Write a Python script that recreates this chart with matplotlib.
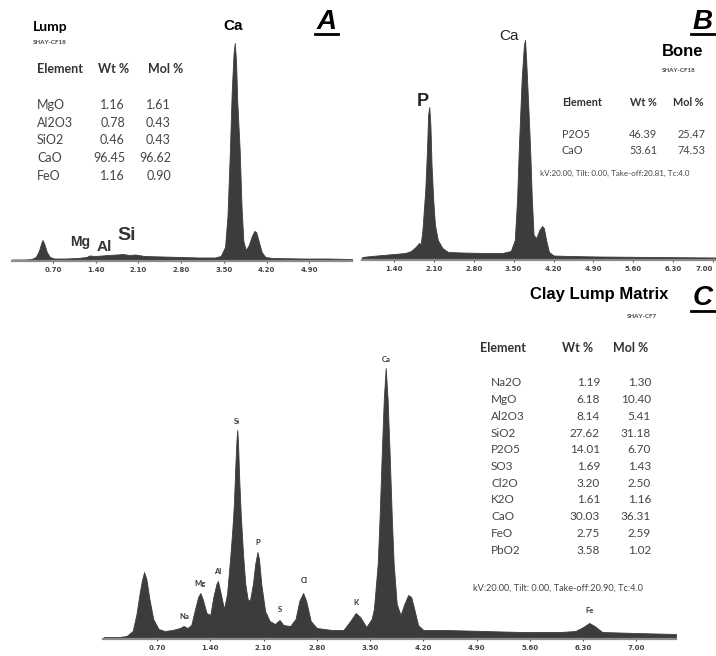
import matplotlib.pyplot as plt
from matplotlib.lines import Line2D

# figure size in pixels
W, H = 716, 656

# ---- spectrum A (Lump) : energy keV, counts
energy_a = [0.03, 0.25, 0.35, 0.42, 0.47, 0.51, 0.53, 0.56, 0.60, 0.65, 0.72, 0.90,
            1.10, 1.25, 1.30, 1.40, 1.50, 1.60, 1.75, 1.85, 1.95, 2.05, 2.20, 2.50,
            2.80, 3.10, 3.35, 3.45, 3.52, 3.56, 3.60, 3.63, 3.66, 3.68, 3.70, 3.72,
            3.76, 3.79, 3.82, 3.86, 3.91, 3.96, 4.00, 4.03, 4.07, 4.12, 4.18, 4.30,
            4.80, 5.20, 5.60]
counts_a = [1.5, 1.5, 2, 4, 10, 18, 21, 17, 9, 4, 2.5, 2.5,
            3, 4, 5.5, 5, 5.5, 6, 6.5, 7, 6, 6.5, 5, 4.5,
            4, 3.5, 3.5, 5, 14, 45, 111, 170, 208, 218, 200, 160,
            111, 55, 20, 11, 16, 25, 30, 29, 20, 9, 4, 3,
            2.5, 2.5, 2]

# ---- spectrum B (Bone)
energy_b = [0.84, 1.00, 1.20, 1.40, 1.60, 1.70, 1.78, 1.84, 1.87, 1.90, 1.95, 1.98,
            2.00, 2.02, 2.04, 2.06, 2.09, 2.12, 2.17, 2.25, 2.35, 2.60, 3.00, 3.30,
            3.45, 3.52, 3.56, 3.59, 3.64, 3.68, 3.70, 3.72, 3.76, 3.79, 3.82, 3.85,
            3.90, 3.95, 4.00, 4.03, 4.07, 4.12, 4.20, 4.50, 5.00, 6.00, 7.05]
counts_b = [3, 4, 5, 6, 7, 9, 13, 17, 16, 30, 70, 110,
            145, 153, 135, 95, 60, 35, 20, 12, 8, 7.5, 7, 7,
            9, 20, 60, 110, 180, 215, 220, 200, 150, 110, 60, 25,
            22, 30, 34, 32, 20, 8, 4.5, 4, 3.5, 3, 2.5]

# ---- spectrum C (Clay Lump Matrix)
energy_c = [0.00, 0.20, 0.30, 0.38, 0.43, 0.47, 0.50, 0.53, 0.56, 0.60, 0.65, 0.72,
            0.80, 0.90, 1.00, 1.05, 1.10, 1.15, 1.20, 1.24, 1.27, 1.30, 1.35, 1.40,
            1.44, 1.48, 1.50, 1.53, 1.58, 1.62, 1.66, 1.69, 1.71, 1.73, 1.745, 1.755,
            1.765, 1.78, 1.80, 1.83, 1.86, 1.89, 1.92, 1.96, 1.99, 2.02, 2.04, 2.07,
            2.12, 2.18, 2.25, 2.31, 2.36, 2.45, 2.52, 2.57, 2.62, 2.66, 2.72, 2.80,
            3.00, 3.15, 3.24, 3.31, 3.37, 3.45, 3.52, 3.55, 3.60, 3.625, 3.655, 3.68,
            3.705, 3.73, 3.755, 3.785, 3.81, 3.85, 3.90, 3.95, 4.00, 4.04, 4.08, 4.13,
            4.20, 4.50, 5.00, 5.50, 6.00, 6.20, 6.30, 6.38, 6.45, 6.55, 7.00, 7.52]
counts_c = [2, 2, 3, 8, 25, 45, 58, 67, 60, 40, 20, 10,
            8, 9, 11, 13, 11, 14, 30, 42, 46, 40, 26, 24,
            42, 55, 58, 48, 30, 45, 80, 110, 135, 175, 200, 209,
            195, 160, 125, 85, 55, 40, 38, 55, 75, 87, 80, 55,
            28, 18, 15, 19, 14, 13, 20, 38, 46, 38, 18, 11,
            9, 9, 18, 26, 22, 12, 20, 30, 75, 122, 189, 240,
            271, 240, 189, 122, 75, 35, 24, 35, 44, 42, 30, 14,
            9, 9, 8, 7, 7, 8, 12, 16, 13, 7, 6, 5]

ticks_a = [0.70, 1.40, 2.10, 2.80, 3.50, 4.20, 4.90]
ticks_b = [1.40, 2.10, 2.80, 3.50, 4.20, 4.90, 5.60, 6.30, 7.00]
ticks_c = [0.70, 1.40, 2.10, 2.80, 3.50, 4.20, 4.90, 5.60, 6.30, 7.00]

# ---- composition tables
oxides_a = ['MgO', 'Al2O3', 'SiO2', 'CaO', 'FeO']
wt_a = ['1.16', '0.78', '0.46', '96.45', '1.16']
mol_a = ['1.61', '0.43', '0.43', '96.62', '0.90']

oxides_b = ['P2O5', 'CaO']
wt_b = ['46.39', '53.61']
mol_b = ['25.47', '74.53']

oxides_c = ['Na2O', 'MgO', 'Al2O3', 'SiO2', 'P2O5', 'SO3', 'Cl2O', 'K2O', 'CaO', 'FeO', 'PbO2']
wt_c = ['1.19', '6.18', '8.14', '27.62', '14.01', '1.69', '3.20', '1.61', '30.03', '2.75', '3.58']
mol_c = ['1.30', '10.40', '5.41', '31.18', '6.70', '1.43', '2.50', '1.16', '36.31', '2.59', '1.02']

# peak labels in C: element, energy, counts
peaks_c = [('Ca', 3.705, 276), ('Si', 1.755, 214), ('P', 2.03, 93), ('Al', 1.50, 64),
           ('Mg', 1.27, 52), ('Na', 1.06, 19), ('S', 2.31, 26), ('Cl', 2.63, 55),
           ('K', 3.32, 33), ('Fe', 6.38, 25)]

fill_col = '#3c3c3c'
axis_col = '#8c8c8c'
tab_font = 'Lato'
head_font = 'Liberation Sans'

fig = plt.figure(figsize=(W / 100, H / 100), dpi=100)


def add_spec_ax(x0, x1, ybase, ytop):
    ax = fig.add_axes([x0 / W, 1 - ybase / H, (x1 - x0) / W, (ybase - ytop) / H])
    ax.set_facecolor('none')
    for s in ['left', 'top', 'right']:
        ax.spines[s].set_visible(False)
    ax.spines['bottom'].set_color(axis_col)
    ax.spines['bottom'].set_linewidth(1.6)
    ax.set_yticks([])
    ax.tick_params(axis='x', length=3, width=0.8, direction='inout', color='#555555',
                   labelsize=5, labelcolor='#444444', pad=3)
    return ax


def txt(x, y, s, **kw):
    kw.setdefault('va', 'center')
    fig.text(x / W, 1 - y / H, s, **kw)


def underline(x0, x1, y):
    fig.add_artist(Line2D([x0 / W, x1 / W], [1 - y / H, 1 - y / H], color='black', lw=2))


def set_ticks(ax, ticks):
    ax.set_xticks(ticks)
    ax.set_xticklabels(['%.2f' % t for t in ticks], fontweight='bold')


# ---------------- panel A
ax_a = add_spec_ax(12, 352, 261, 0)
ax_a.fill_between(energy_a, 0, counts_a, color=fill_col, lw=0.6, edgecolor=fill_col)
ax_a.set_xlim(0.03, 5.60)
ax_a.set_ylim(0, 261)
set_ticks(ax_a, ticks_a)
ax_a.text(3.66, 228, 'Ca', ha='center', va='bottom', fontsize=11, fontweight='bold',
          family=head_font)
ax_a.text(1.14, 19, 'Mg', ha='center', va='center', fontsize=10, fontweight='bold',
          family=head_font, color='#333333')
ax_a.text(1.55, 14, 'Al', ha='center', va='center', fontsize=11, fontweight='bold',
          family=head_font, color='#333333')
ax_a.text(1.90, 26, 'Si', ha='center', va='center', fontsize=14, fontweight='bold',
          family=head_font, color='#333333')

txt(33, 27, 'Lump', fontsize=10, fontweight='bold', family=tab_font)
txt(33, 42, 'SHAY-CF18', fontsize=4.5, fontweight='bold', family=tab_font, color='#444444')
txt(37, 69, 'Element', fontsize=9, fontweight='bold', family=tab_font, color='#333333')
txt(98, 69, 'Wt %', fontsize=9, fontweight='bold', family=tab_font, color='#333333')
txt(148, 69, 'Mol %', fontsize=9, fontweight='bold', family=tab_font, color='#333333')
for i in range(len(oxides_a)):
    y = 105 + i * 17.7
    txt(37, y, oxides_a[i], fontsize=9, family=tab_font, color='#444444')
    txt(125, y, wt_a[i], fontsize=9, family=tab_font, color='#444444', ha='right')
    txt(171, y, mol_a[i], fontsize=9, family=tab_font, color='#444444', ha='right')

txt(327, 22, 'A', fontsize=20, fontweight='bold', style='italic', family=head_font, ha='center')
underline(315, 338, 34)

# ---------------- panel B
ax_b = add_spec_ax(362, 716, 260, 0)
ax_b.fill_between(energy_b, 0, counts_b, color=fill_col, lw=0.6, edgecolor=fill_col)
ax_b.set_xlim(0.84, 7.05)
ax_b.set_ylim(0, 260)
set_ticks(ax_b, ticks_b)
# last label sits at the right edge of the figure
ax_b.get_xticklabels()[-1].set_horizontalalignment('right')
ax_b.text(1.90, 158, 'P', ha='center', va='center', fontsize=13, fontweight='bold',
          family=head_font, color='#222222')
ax_b.text(3.41, 224, 'Ca', ha='center', va='center', fontsize=11, family=head_font,
          color='#222222')

txt(683, 52, 'Bone', fontsize=12, fontweight='bold', family=head_font, ha='center')
txt(679, 71, 'SHAY-CF18', fontsize=4.5, fontweight='bold', family=tab_font,
    color='#444444', ha='center')
txt(562, 102, 'Element', fontsize=7.8, fontweight='bold', family=tab_font, color='#333333')
txt(630, 102, 'Wt %', fontsize=7.8, fontweight='bold', family=tab_font, color='#333333')
txt(673, 102, 'Mol %', fontsize=7.8, fontweight='bold', family=tab_font, color='#333333')
for i in range(len(oxides_b)):
    y = 135 + i * 16
    txt(562, y, oxides_b[i], fontsize=7.8, family=tab_font, color='#444444')
    txt(657, y, wt_b[i], fontsize=7.8, family=tab_font, color='#444444', ha='right')
    txt(705, y, mol_b[i], fontsize=7.8, family=tab_font, color='#444444', ha='right')
txt(540, 173, 'kV:20.00, Tilt: 0.00, Take-off:20.81, Tc:4.0', fontsize=5.8,
    family=tab_font, color='#444444')

txt(703, 22, 'B', fontsize=20, fontweight='bold', style='italic', family=head_font, ha='center')
underline(691, 716, 34)

# ---------------- panel C
ax_c = add_spec_ax(103, 676, 639, 330)
ax_c.fill_between(energy_c, 0, counts_c, color=fill_col, lw=0.6, edgecolor=fill_col)
ax_c.set_xlim(-0.01, 7.52)
ax_c.set_ylim(0, 309)
set_ticks(ax_c, ticks_c)
for name, e, c in peaks_c:
    ax_c.text(e, c, name, ha='center', va='bottom', fontsize=5.5, fontweight='bold',
              family=tab_font, color='#333333')

txt(530, 295, 'Clay Lump Matrix', fontsize=12, fontweight='bold', family=head_font)
txt(642, 317, 'SHAY-CF7', fontsize=4.5, fontweight='bold', family=tab_font,
    color='#444444', ha='center')
txt(480, 348, 'Element', fontsize=9, fontweight='bold', family=tab_font, color='#333333')
txt(562, 348, 'Wt %', fontsize=9, fontweight='bold', family=tab_font, color='#333333')
txt(613, 348, 'Mol %', fontsize=9, fontweight='bold', family=tab_font, color='#333333')
for i in range(len(oxides_c)):
    y = 383 + i * 16.7
    txt(491, y, oxides_c[i], fontsize=8.5, family=tab_font, color='#444444')
    txt(600, y, wt_c[i], fontsize=8.5, family=tab_font, color='#444444', ha='right')
    txt(651, y, mol_c[i], fontsize=8.5, family=tab_font, color='#444444', ha='right')
txt(473, 588, 'kV:20.00, Tilt: 0.00, Take-off:20.90, Tc:4.0', fontsize=6.6,
    family=tab_font, color='#444444')

txt(703, 298, 'C', fontsize=20, fontweight='bold', style='italic', family=head_font, ha='center')
underline(691, 716, 311)

fig.savefig('out.png', dpi=100)
